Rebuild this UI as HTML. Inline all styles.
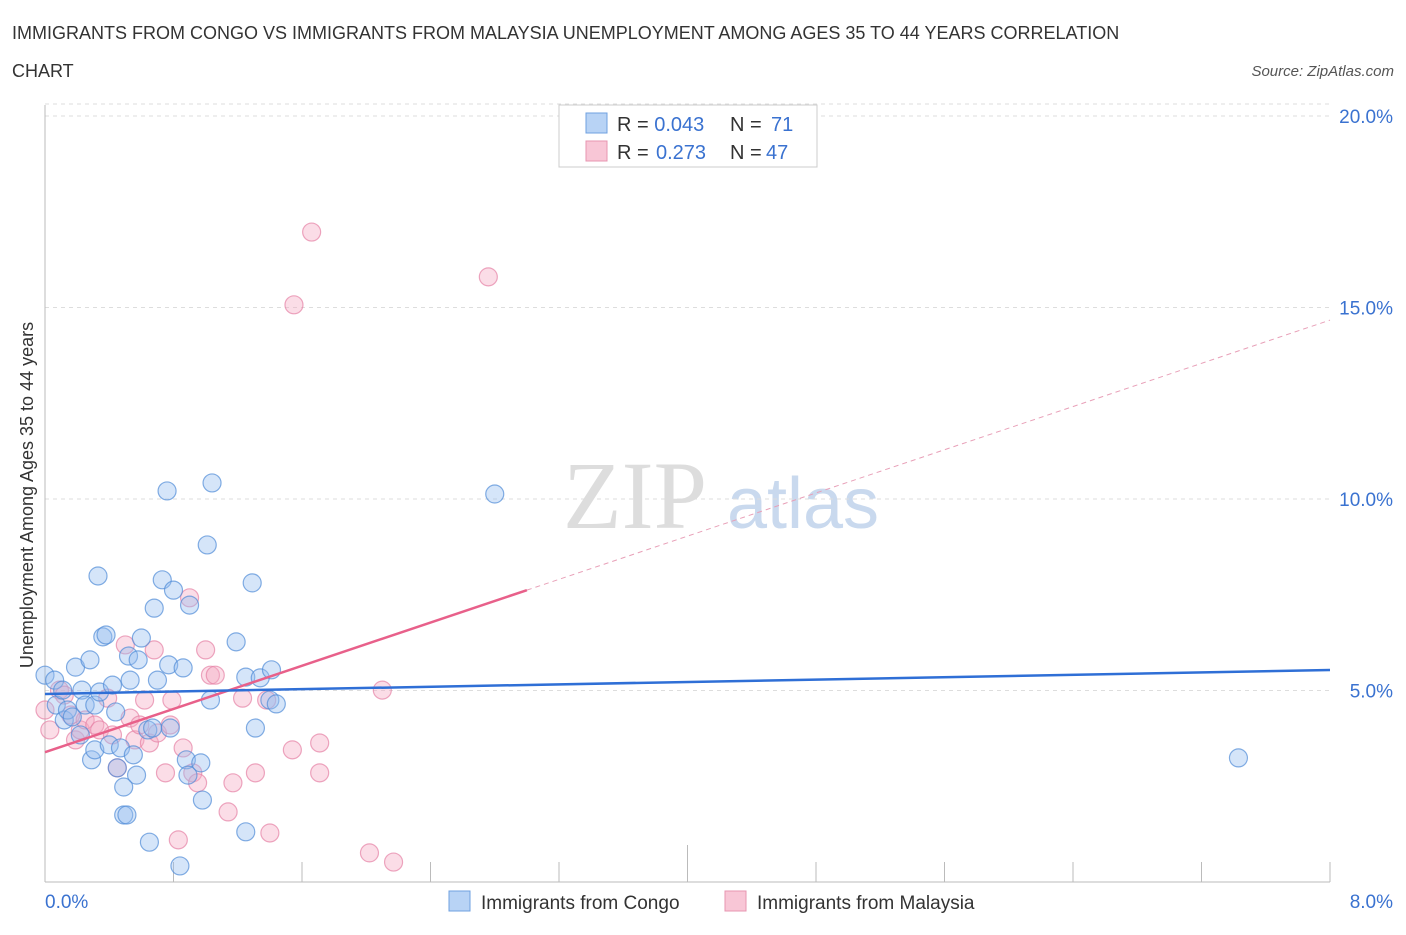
<!DOCTYPE html>
<html><head><meta charset="utf-8"><style>
body{margin:0;background:#fff;font-family:"Liberation Sans",sans-serif;}
</style></head><body>
<svg id="chart" width="1406" height="930" xmlns="http://www.w3.org/2000/svg" font-family="Liberation Sans, sans-serif">
<text x="12" y="39" font-size="18" fill="#333">IMMIGRANTS FROM CONGO VS IMMIGRANTS FROM MALAYSIA UNEMPLOYMENT AMONG AGES 35 TO 44 YEARS CORRELATION</text>
<text x="12" y="77" font-size="18" fill="#333">CHART</text>
<text x="1394" y="76" font-size="15" fill="#555" text-anchor="end" font-style="italic">Source: ZipAtlas.com</text>
<text transform="translate(33,495) rotate(-90)" font-size="18" fill="#333" text-anchor="middle">Unemployment Among Ages 35 to 44 years</text>
<g>
<text x="635" y="528" font-size="96" fill="#ddd" font-family="Liberation Serif, serif" text-anchor="middle">ZIP</text>
<text x="803" y="528" font-size="72" fill="#c9d9ee" text-anchor="middle">atlas</text>
</g>
<g id="grid"></g>
<g id="axes"></g>
<g id="marks"></g>
<g>
<rect x="559" y="105" width="258" height="62" fill="#fff" stroke="#ccc"/>
<rect x="586" y="113" width="21" height="20" fill="#b8d3f5" stroke="#6fa0e0"/>
<rect x="586" y="141" width="21" height="20" fill="#f8c6d6" stroke="#e795b0"/>
<text x="617" y="131" font-size="20" fill="#333">R = <tspan fill="#3a72d0">0.043</tspan><tspan x="730">N = </tspan><tspan x="771" fill="#3a72d0">71</tspan></text>
<text x="617" y="159" font-size="20" fill="#333">R = <tspan x="656" fill="#3a72d0">0.273</tspan><tspan x="730">N = </tspan><tspan x="766" fill="#3a72d0">47</tspan></text>
</g>
<g>
<rect x="449" y="891" width="21" height="20" fill="#b8d3f5" stroke="#6fa0e0"/>
<text x="481" y="909" font-size="19" fill="#333">Immigrants from Congo</text>
<rect x="725" y="891" width="21" height="20" fill="#f8c6d6" stroke="#e795b0"/>
<text x="757" y="909" font-size="19" fill="#333">Immigrants from Malaysia</text>
</g>
</svg>
<script>
const congoX=[0,.06,.07,.11,.12,.14,.17,.19,.22,.23,.25,.28,.29,.31,.31,.33,.34,.36,.38,.40,.42,.44,.45,.47,.49,.49,.51,.52,.53,.55,.57,.58,.60,.64,.65,.67,.68,.70,.73,.76,.77,.78,.80,.84,.86,.88,.89,.90,.97,.98,1.01,1.03,1.04,1.19,1.25,1.25,1.29,1.31,1.34,1.40,1.41,1.44,2.80,7.43];
const congoY=[5.40,5.27,4.62,5.01,4.23,4.49,4.31,5.61,3.84,5.01,4.62,5.80,3.19,3.45,4.62,7.99,4.96,6.40,6.45,3.58,5.14,4.44,2.98,3.50,2.48,1.75,1.75,5.90,5.27,3.32,2.79,5.80,6.37,3.97,1.04,4.02,7.15,5.27,7.89,10.21,5.67,4.02,7.62,0.42,5.59,3.19,2.79,7.23,3.11,2.14,8.80,4.75,10.42,6.27,5.35,1.31,7.81,4.02,5.33,4.75,5.54,4.65,10.13,3.24];
const malX=[1.66,1.55,2.76,0,.03,.09,.12,.16,.19,.22,.25,.31,.34,.39,.42,.45,.50,.53,.56,.59,.62,.65,.68,.70,.75,.78,.79,.83,.86,.90,.92,.95,1.00,1.03,1.06,1.14,1.17,1.23,1.31,1.38,1.40,1.54,1.71,1.71,2.02,2.10,2.17];
const malY=[16.97,15.07,15.80,4.49,3.97,5.01,4.88,4.36,3.71,3.97,4.23,4.10,3.97,4.80,3.84,2.98,6.19,4.28,3.71,4.10,4.75,3.63,6.06,3.89,2.85,4.10,4.75,1.10,3.50,7.42,2.85,2.59,6.06,5.40,5.40,1.83,2.59,4.80,2.85,4.75,1.28,3.45,3.63,2.85,0.76,5.01,0.52];
const yTicks=[5,10,15,20];
const yTickLabels=["5.0%","10.0%","15.0%","20.0%"];
const congoTrend=[4.91,5.535];
const malTrend=[3.39,14.67];
const malSolidEnd=3.0;
const NS="http://www.w3.org/2000/svg";
const X=v=>45+v/8*1285, Y=v=>882-v/5*191.5;
function mk(tag,attrs,parent){const e=document.createElementNS(NS,tag);for(const k in attrs)e.setAttribute(k,attrs[k]);parent.appendChild(e);return e;}
const grid=document.getElementById('grid'),axes=document.getElementById('axes'),marks=document.getElementById('marks');
yTicks.forEach((t,i)=>{
 const l=mk('line',{x1:45,x2:1330,y1:Y(t),y2:Y(t),stroke:'#ddd','stroke-dasharray':'4,4'},grid);
 
 
 const tx=mk('text',{x:1393,y:Y(t)+7,'font-size':19,fill:'#3a72d0','text-anchor':'end'},axes);
 tx.textContent=yTickLabels[i];
 
 
});
const t0=mk('line',{x1:45,x2:1330,y1:Y(20)-12,y2:Y(20)-12,stroke:'#ddd','stroke-dasharray':'4,4'},grid);


const ya=mk('line',{x1:45,x2:45,y1:105,y2:882,stroke:'#bbb'},axes);


const xa=mk('line',{x1:45,x2:1330,y1:882,y2:882,stroke:'#bbb'},axes);


for(let i=0;i<=10;i++){const xv=i*0.8;const tk=mk('line',{x1:X(xv),x2:X(xv),y1:i==5?845:862,y2:882,stroke:'#bbb'},axes);
 
 }
const xl0=mk('text',{x:45,y:908,'font-size':19,fill:'#3a72d0'},axes);xl0.textContent='0.0%';


const xl1=mk('text',{x:1393,y:908,'font-size':19,fill:'#3a72d0','text-anchor':'end'},axes);xl1.textContent='8.0%';


malX.forEach((v,i)=>{const c=mk('circle',{cx:X(v),cy:Y(malY[i]),r:9,fill:'rgba(244,170,195,0.4)',stroke:'rgba(230,130,165,0.7)','stroke-width':1.2},marks);
 
 });
congoX.forEach((v,i)=>{const c=mk('circle',{cx:X(v),cy:Y(congoY[i]),r:9,fill:'rgba(150,190,240,0.4)',stroke:'rgba(80,140,215,0.7)','stroke-width':1.2},marks);
 
 });
const mAt=x=>malTrend[0]+(malTrend[1]-malTrend[0])*x/8;
const md=mk('line',{x1:X(malSolidEnd),y1:Y(mAt(malSolidEnd)),x2:X(8),y2:Y(mAt(8)),stroke:'#e8a0b8','stroke-width':1,'stroke-dasharray':'5,4'},marks);


const ms=mk('line',{x1:X(0),y1:Y(mAt(0)),x2:X(malSolidEnd),y2:Y(mAt(malSolidEnd)),stroke:'#e8608a','stroke-width':2.5},marks);


const cl=mk('line',{x1:X(0),y1:Y(congoTrend[0]),x2:X(8),y2:Y(congoTrend[1]),stroke:'#2f6fd6','stroke-width':2.5},marks);


</script>
</body></html>
